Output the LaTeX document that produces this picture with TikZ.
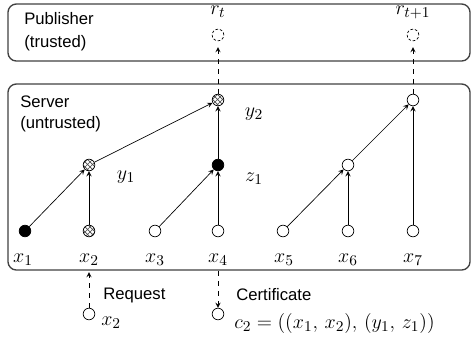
\documentclass[tikz,border=0pt]{standalone}
\usepackage{fontspec}
\setmainfont{Liberation Sans}
\usetikzlibrary{positioning,arrows,patterns}

\begin{document}
\begin{tikzpicture}[x=0.6pt,y=-0.6pt,>=stealth,
  every node/.style={inner sep=0pt},
  vert/.style={draw,circle,minimum size=7pt},
  full/.style={vert,fill=black},
  hash/.style={vert,pattern=crosshatch,pattern color=black!70},
  ghost/.style={vert,dash pattern=on 1.6pt off 1.1pt},
  lbl/.style={font=\fontsize{13}{15}\selectfont}]
\useasboundingbox (0,0) rectangle (471,337);

% the two parties
\draw[black!75,line width=0.8pt,rounded corners=5pt] (8,4) rectangle (470,61);
\draw[black!75,line width=0.8pt,rounded corners=5pt] (8,84) rectangle (470,270);
\node[anchor=west,align=left] (pub) at (24,32) {Publisher\\[2pt](trusted)};
\node[anchor=west,align=left] (srv) at (20,114) {Server\\[1pt](untrusted)};

% leaves
\node[full] (v1) at (25,231) {};
\node[hash] (v2) at (89,231) {};
\node[vert] (v3) at (155,231) {};
\node[vert] (v4) at (218,231) {};
\node[vert] (v5) at (283,231) {};
\node[vert] (v6) at (348,231) {};
\node[vert] (v7) at (413,231) {};
\foreach \i/\x in {1/23,2/89,3/155,4/218,5/284,6/348,7/413}
	\node[lbl] (lx\i) at (\x,260) {$x_\i$};

% inner nodes
\node[hash] (y1) at (89,165) {};
\node[full] (z1) at (218,165) {};
\node[hash] (y2) at (218,100) {};
\node[vert] (w1) at (348,165) {};
\node[vert] (w2) at (413,100) {};
\node[lbl] (ly1) at (126,177) {$y_1$};
\node[lbl] (lz1) at (254,179) {$z_1$};
\node[lbl] (ly2) at (254,114) {$y_2$};

\foreach \a/\b in {v1/y1,v2/y1,y1/y2,v3/z1,v4/z1,z1/y2,v5/w1,v6/w1,w1/w2,v7/w2}
	\draw[->] (\a) -- (\b);

% roots at the publisher
\node[ghost] (r1) at (218,35) {};
\node[ghost] (r2) at (413,35) {};
\node[lbl] (lr1) at (218,12) {$r_t$};
\node[lbl] (lr2) at (413,12) {$r_{t+1}$};
\coordinate (p1) at (218,47);
\coordinate (p2) at (413,47);
\draw[->,dashed] (y2) -- (p1);
\draw[->,dashed] (w2) -- (p2);

% client side
\node[vert] (q) at (89,314) {};
\node[vert] (c) at (218,314) {};
\coordinate (req) at (89,272);
\coordinate (cert) at (218,271);
\draw[->,dashed] (q) -- (req);
\draw[->,dashed] (cert) -- (c);
\node[anchor=west] (lreq) at (103,295) {Request};
\node[anchor=west] (lcert) at (236,295) {Certificate};
\node[lbl,anchor=west] (lq) at (101,323) {$x_2$};
\node[lbl,anchor=west] (lc) at (234,323) {$c_2=((x_1,\,x_2),\,(y_1,\,z_1))$};
\end{tikzpicture}
\end{document}
